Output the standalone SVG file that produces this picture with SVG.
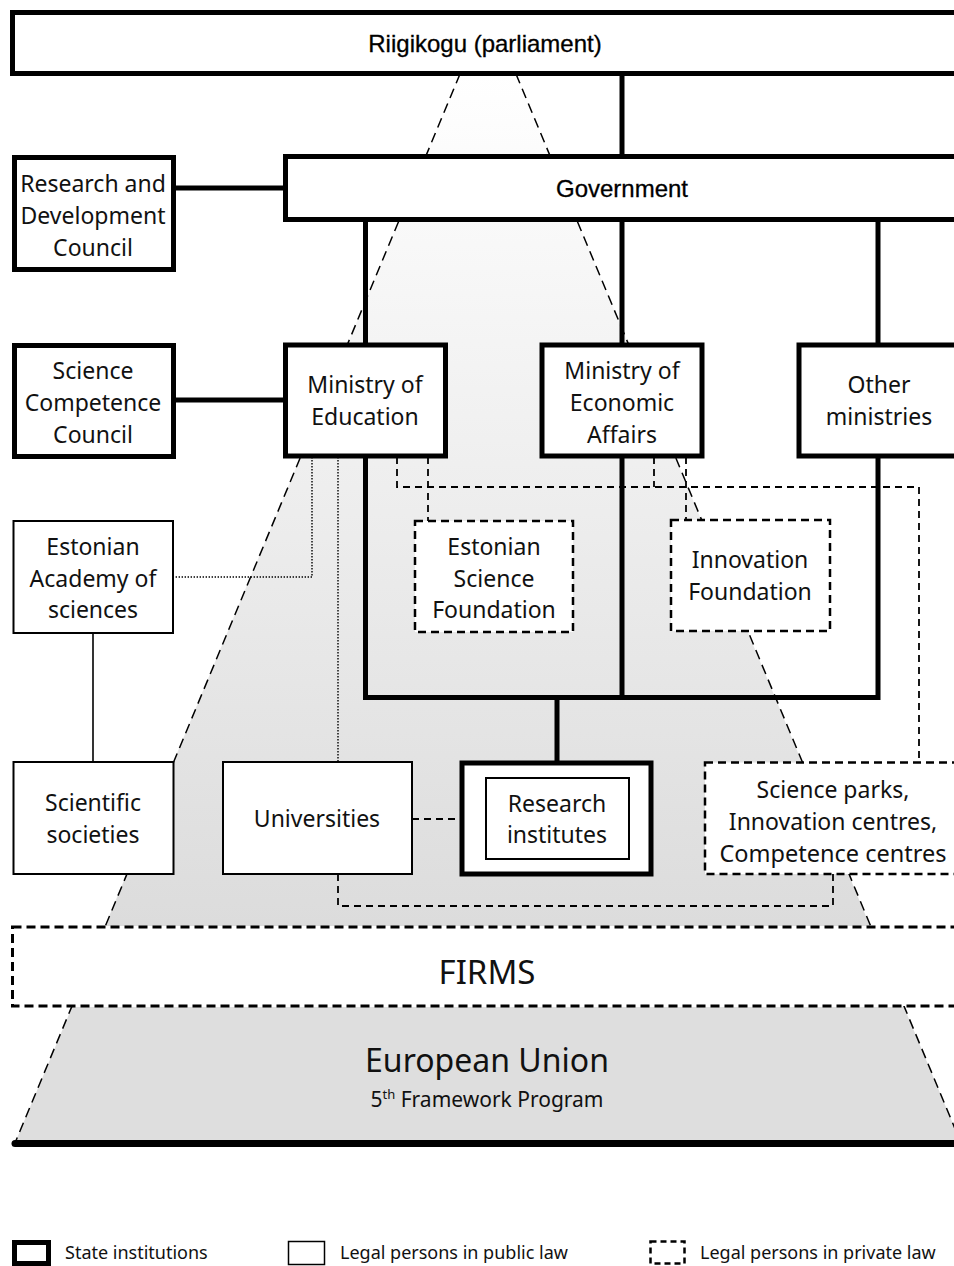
<svg xmlns="http://www.w3.org/2000/svg" width="954" height="1266" viewBox="0 0 954 1266">
<defs>
<linearGradient id="pyr" gradientUnits="userSpaceOnUse" x1="0" y1="74" x2="0" y2="926">
<stop offset="0" stop-color="#ffffff"/>
<stop offset="1" stop-color="#dcdcdc"/>
</linearGradient>
<style>
.state{fill:#fff;stroke:#000;stroke-width:5}
.pub{fill:#fff;stroke:#000;stroke-width:2}
.priv{fill:#fff;stroke:#000;stroke-width:2.5;stroke-dasharray:8 5}
.lbl{font-family:"Noto Sans","Liberation Sans",sans-serif;font-size:23px;fill:#111;text-anchor:middle}
.hdr{font-family:"Liberation Sans",Arial,sans-serif;font-size:24px;fill:#000;stroke:#000;stroke-width:0.3;text-anchor:middle}
.thick{stroke:#000;stroke-width:5;fill:none}
.thin{stroke:#000;stroke-width:1.6;fill:none}
.dash{stroke:#000;stroke-width:1.8;fill:none;stroke-dasharray:7 5}
.dot{stroke:#000;stroke-width:1.4;fill:none;stroke-dasharray:1.4 1.6}
.edge{stroke:#000;stroke-width:1.5;fill:none;stroke-dasharray:10 6}
.leg{font-family:"Noto Sans","Liberation Sans",sans-serif;font-size:18px;fill:#111}
</style>
</defs>
<rect x="0" y="0" width="954" height="1266" fill="#fff"/>
<g id="pyramid">
<polygon points="460,74 516,74 870,926 105,926" fill="url(#pyr)"/>
<polygon points="72,1007 904,1007 961,1143 15,1143" fill="#dedede"/>
<line class="edge" x1="460" y1="74" x2="15" y2="1143"/>
<line class="edge" x1="516" y1="74" x2="961" y2="1143"/>
<line x1="15" y1="1143.5" x2="960" y2="1143.5" stroke="#000" stroke-width="7" stroke-linecap="round"/>
</g>
<g id="connectors">
<line class="thick" x1="622" y1="73" x2="622" y2="157"/>
<line class="thick" x1="173" y1="188" x2="286" y2="188"/>
<line class="thick" x1="365.5" y1="219" x2="365.5" y2="346"/>
<line class="thick" x1="622" y1="219" x2="622" y2="346"/>
<line class="thick" x1="878" y1="219" x2="878" y2="346"/>
<line class="thick" x1="173" y1="400" x2="286" y2="400"/>
<path class="thick" d="M365.5 456 V697.5 H878 V456 M622 456 V697.5 M557 697.5 V763"/>
<line class="thin" x1="93" y1="633" x2="93" y2="762"/>
<path class="dot" d="M312 457 V577 H173 M338 457 V762"/>
<path class="dash" d="M397 457 V487 H919 V762 M428 457 V521 M654 457 V487 M686 457 V520 M412 819 H486 M338 874 V906 H833 V874"/>
</g>
<g id="riigikogu">
<rect class="state" x="12.5" y="12.5" width="970" height="61"/>
<text class="hdr" x="485" y="52">Riigikogu (parliament)</text>
</g>
<g id="government">
<rect class="state" x="285.5" y="156.5" width="700" height="63"/>
<text class="hdr" x="622" y="197">Government</text>
</g>
<g id="rd-council">
<rect class="state" x="14.5" y="157.5" width="159" height="112"/>
<text class="lbl" x="93" y="192">Research and</text>
<text class="lbl" x="93" y="224">Development</text>
<text class="lbl" x="93" y="256">Council</text>
</g>
<g id="sc-council">
<rect class="state" x="14.5" y="345.5" width="159" height="111"/>
<text class="lbl" x="93" y="379">Science</text>
<text class="lbl" x="93" y="411">Competence</text>
<text class="lbl" x="93" y="443">Council</text>
</g>
<g id="min-education">
<rect class="state" x="285.5" y="345" width="160" height="111"/>
<text class="lbl" x="365" y="393">Ministry of</text>
<text class="lbl" x="365" y="425">Education</text>
</g>
<g id="min-economic">
<rect class="state" x="542" y="345" width="160" height="111"/>
<text class="lbl" x="622" y="379">Ministry of</text>
<text class="lbl" x="622" y="411">Economic</text>
<text class="lbl" x="622" y="443">Affairs</text>
</g>
<g id="other-ministries">
<rect class="state" x="799" y="345" width="200" height="111"/>
<text class="lbl" x="879" y="393">Other</text>
<text class="lbl" x="879" y="425">ministries</text>
</g>
<g id="academy">
<rect class="pub" x="13.5" y="521" width="159.5" height="112"/>
<text class="lbl" x="93" y="555">Estonian</text>
<text class="lbl" x="93" y="587">Academy of</text>
<text class="lbl" x="93" y="618">sciences</text>
</g>
<g id="science-foundation">
<rect class="priv" x="415" y="521" width="158" height="111"/>
<text class="lbl" x="494" y="555">Estonian</text>
<text class="lbl" x="494" y="587">Science</text>
<text class="lbl" x="494" y="618">Foundation</text>
</g>
<g id="innovation-foundation">
<rect class="priv" x="671" y="520" width="159" height="111"/>
<text class="lbl" x="750" y="568">Innovation</text>
<text class="lbl" x="750" y="600">Foundation</text>
</g>
<g id="scientific-societies">
<rect class="pub" x="13.5" y="762" width="160" height="112"/>
<text class="lbl" x="93" y="811">Scientific</text>
<text class="lbl" x="93" y="843">societies</text>
</g>
<g id="universities">
<rect class="pub" x="223" y="762" width="189" height="112"/>
<text class="lbl" x="317" y="827">Universities</text>
</g>
<g id="research-institutes">
<rect class="state" x="462" y="763" width="189" height="111"/>
<rect class="pub" x="486" y="778" width="143" height="81"/>
<text class="lbl" x="557" y="812">Research</text>
<text class="lbl" x="557" y="843">institutes</text>
</g>
<g id="science-parks">
<rect class="priv" x="705" y="762.5" width="300" height="111.5"/>
<text class="lbl" x="833" y="798">Science parks,</text>
<text class="lbl" x="833" y="830">Innovation centres,</text>
<text class="lbl" x="833" y="862" style="font-size:23.5px">Competence centres</text>
</g>
<g id="firms">
<rect x="12.5" y="927" width="1000" height="79" fill="#fff" stroke="#000" stroke-width="3" stroke-dasharray="9 5"/>
<text class="lbl" x="487" y="984" style="font-size:33px">FIRMS</text>
</g>
<g id="eu">
<text class="lbl" x="487" y="1072" style="font-size:32px">European Union</text>
<text class="lbl" x="487" y="1107" style="font-size:21px">5<tspan dy="-8" style="font-size:13px">th</tspan><tspan dy="8"> Framework Program</tspan></text>
</g>
<g id="legend">
<rect x="14.5" y="1242.5" width="34" height="21" fill="#fff" stroke="#000" stroke-width="5"/>
<text class="leg" x="65" y="1259">State institutions</text>
<rect x="288.5" y="1241.5" width="36" height="23" fill="#fff" stroke="#000" stroke-width="1.5"/>
<text class="leg" x="340" y="1259">Legal persons in public law</text>
<rect x="650.5" y="1241.5" width="34" height="22" fill="#fff" stroke="#000" stroke-width="2.5" stroke-dasharray="6 4"/>
<text class="leg" x="700" y="1259">Legal persons in private law</text>
</g>
</svg>
